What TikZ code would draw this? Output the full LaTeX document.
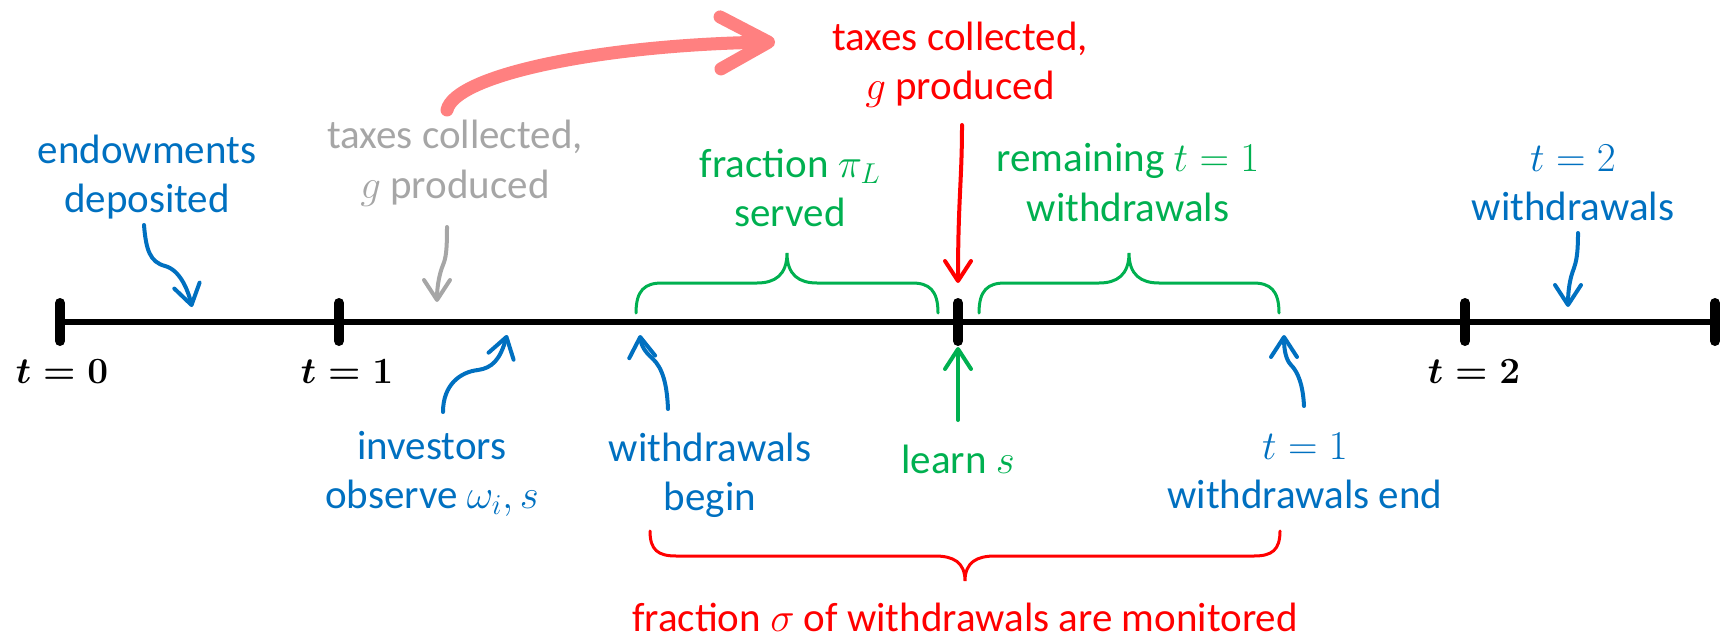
\RequirePackage{fix-cm}
\documentclass[tikz,border=0pt]{standalone}
\usepackage{fontspec}
\setmainfont{Carlito}
\usetikzlibrary{arrows.meta}
\definecolor{cblue}{HTML}{0070C0}
\definecolor{cgreen}{HTML}{00B050}
\definecolor{cred}{HTML}{FF0000}
\definecolor{cgray}{HTML}{A6A6A6}
\definecolor{cpink}{HTML}{FF8080}
\tikzset{
  lbl/.style={font=\fontsize{41}{49}\selectfont, align=center, anchor=base, inner sep=0pt},
  tlbl/.style={font=\fontsize{37}{44}\selectfont\boldmath, anchor=base, inner sep=0pt},
  barb/.style={line width=4pt, line cap=round, -{Straight Barb[length=20pt,width=26pt,round]}},
  brace/.style={line width=3pt, line cap=round},
  tick/.style={line width=10pt, line cap=round},
}
\begin{document}
\begin{tikzpicture}[x=1pt,y=-1pt]
\useasboundingbox (0,0) rectangle (1723,639);
% timeline
\coordinate (L0) at (60,322);
\coordinate (L1) at (339,322);
\coordinate (Lm) at (958,322);
\coordinate (L2) at (1465,322);
\coordinate (L3) at (1715,322);
\draw[line width=6pt] (L0) -- (L3);
\foreach \c in {L0,L1,Lm,L2,L3} \draw[tick] ([yshift=-19pt]\c) -- ([yshift=19pt]\c);
% t labels
\node[tlbl] (t0) at (62,383) {$t=0$};
\node[tlbl] (t1) at (347,383) {$t=1$};
\node[tlbl] (t2) at (1474,383) {$t=2$};
% labels (base = baseline of last line)
\node[lbl, text=cblue] (endow) at (147,212) {endowments\\deposited};
\node[lbl, text=cgray] (taxgray) at (455,198) {taxes collected,\\$g$ produced};
\node[lbl, text=cred] (taxred) at (960,100) {taxes collected,\\$g$ produced};
\node[lbl, text=cgreen] (fracL) at (790,226) {fraction $\pi_L$\\served};
\node[lbl, text=cgreen] (remain) at (1128,221) {remaining $t=1$\\withdrawals};
\node[lbl, text=cblue] (t2w) at (1573,220) {$t=2$\\withdrawals};
\node[lbl, text=cblue] (invest) at (432,508) {investors\\observe $\omega_i, s$};
\node[lbl, text=cblue] (wbegin) at (710,510) {withdrawals\\begin};
\node[lbl, text=cgreen] (learn) at (958,473) {learn $s$};
\node[lbl, text=cblue] (t1end) at (1305,508) {$t=1$\\withdrawals end};
\node[lbl, text=cred] (monit) at (965,631) {fraction $\sigma$ of withdrawals are monitored};
% arrow end coordinates
\coordinate (a1s) at (144,225); \coordinate (a1e) at (192,307);
\coordinate (a2s) at (447,227); \coordinate (a2e) at (437,302);
\coordinate (a3s) at (447,110); \coordinate (a3e) at (775,42);
\coordinate (a4s) at (962,125); \coordinate (a4e) at (958,283);
\coordinate (a5s) at (1578,233); \coordinate (a5e) at (1568,307);
\coordinate (a6s) at (443,412); \coordinate (a6e) at (507,335);
\coordinate (a7s) at (668,409); \coordinate (a7e) at (640,335);
\coordinate (a8s) at (958,420); \coordinate (a8e) at (958,347);
\coordinate (a9s) at (1304,406); \coordinate (a9e) at (1284,335);
% arrows
\draw[barb, cblue] (a1s) .. controls (146,250) and (150,262) .. (165,266) .. controls (180,270) and (188,290) .. (a1e);
\draw[barb, cgray] (a2s) .. controls (447,250) and (446,258) .. (443,265) .. controls (440,272) and (437,285) .. (a2e);
\draw[cpink, line width=13pt, line cap=round, -{Straight Barb[length=48pt,width=52pt,round]}] (a3s) .. controls (455,75) and (600,45) .. (a3e);
\draw[barb, cred] (a4s) .. controls (962,180) and (958,200) .. (a4e);
\draw[barb, cblue] (a5s) .. controls (1578,255) and (1576,262) .. (1574,268) .. controls (1570,278) and (1568,290) .. (a5e);
\draw[barb, cblue] (a6s) .. controls (443,385) and (460,372) .. (478,370) .. controls (492,368) and (500,360) .. (a6e);
\draw[barb, cblue] (a7s) .. controls (667,385) and (663,368) .. (652,358) .. controls (645,352) and (641,345) .. (a7e);
\draw[barb, cgreen] (a8s) -- (a8e);
\draw[barb, cblue] (a9s) .. controls (1303,385) and (1298,372) .. (1291,365) .. controls (1286,360) and (1284,350) .. (a9e);
% braces
\draw[brace, cgreen] (636,313) .. controls (636,290) and (645,283) .. (662,283) -- (757,283)
  .. controls (775,283) and (787,275) .. (787,253) .. controls (787,275) and (799,283) .. (817,283)
  -- (912,283) .. controls (929,283) and (938,290) .. (938,313);
\draw[brace, cgreen] (979,313) .. controls (979,290) and (988,283) .. (1005,283) -- (1099,283)
  .. controls (1117,283) and (1129,275) .. (1129,253) .. controls (1129,275) and (1141,283) .. (1159,283)
  -- (1253,283) .. controls (1270,283) and (1279,290) .. (1279,313);
\draw[brace, cred] (650,531) .. controls (650,550) and (658,556) .. (676,556) -- (935,556)
  .. controls (953,556) and (965,562) .. (965,581) .. controls (965,562) and (977,556) .. (995,556)
  -- (1254,556) .. controls (1272,556) and (1280,550) .. (1280,531);
\end{tikzpicture}
\end{document}
